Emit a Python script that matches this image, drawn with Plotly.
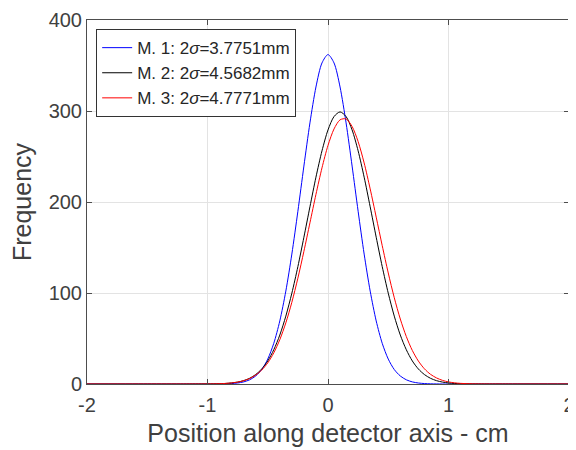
import plotly.graph_objects as go

# Positions along detector axis (cm)
x_pos = [-2.0, -1.5, -1.2, -1.1,
         -1.0, -0.95, -0.9, -0.85, -0.8, -0.75, -0.7, -0.65, -0.6, -0.55,
         -0.5, -0.45, -0.4, -0.35, -0.3, -0.25, -0.2, -0.15, -0.1, -0.05,
         0.0, 0.05, 0.1, 0.15, 0.2, 0.25, 0.3, 0.35, 0.4, 0.45,
         0.5, 0.55, 0.6, 0.65, 0.7, 0.75, 0.8, 0.85, 0.9, 0.95,
         1.0, 1.05, 1.1, 1.2, 1.3, 1.5, 2.0]

# Measurement 1 (blue)
freq_m1 = [0, 0, 0, 0,
           0, 0, 0.1, 0.2, 0.5, 1.1, 2.3, 4.6, 8.8, 15.9,
           27.4, 44.7, 69.3, 102.1, 142.8, 189.8, 239.5, 286.9, 326.4, 352.8,
           362.0, 352.8, 326.4, 286.9, 239.5, 189.8, 142.8, 102.1, 69.3, 44.7,
           27.4, 15.9, 8.8, 4.6, 2.3, 1.1, 0.5, 0.2, 0.1, 0,
           0, 0, 0, 0, 0, 0, 0]

# Measurement 2 (black)
freq_m2 = [0, 0, 0, 0.05,
           0.1, 0.2, 0.3, 0.6, 1.2, 2.1, 3.7, 6.3, 10.4, 16.5,
           25.3, 37.6, 53.8, 74.6, 99.8, 129.0, 161.3, 194.7, 227.3, 256.2,
           279.2, 293.9, 299.0, 293.9, 279.2, 256.2, 227.3, 194.7, 161.3, 129.0,
           99.8, 74.6, 53.8, 37.6, 25.3, 16.5, 10.4, 6.3, 3.7, 2.1,
           1.2, 0.6, 0.3, 0.1, 0.02, 0, 0]

# Measurement 3 (red)
freq_m3 = [0, 0, 0.01, 0.03,
           0.08, 0.17, 0.34, 0.64, 1.17, 2.09, 3.6, 6.0, 9.8, 15.3,
           23.2, 34.2, 48.7, 67.2, 89.8, 116.3, 145.8, 177.1, 208.4, 237.5,
           262.2, 280.3, 290.3, 291.3, 283.0, 266.4, 242.9, 214.4, 183.4, 152.0,
           122.0, 94.8, 71.4, 52.1, 36.8, 25.2, 16.7, 10.7, 6.7, 4.0,
           2.3, 1.3, 0.7, 0.2, 0.05, 0, 0]

series_names = ["M. 1: 2<i>σ</i>=3.7751mm",
                "M. 2: 2<i>σ</i>=4.5682mm",
                "M. 3: 2<i>σ</i>=4.7771mm"]
series_colors = ["#0000ff", "#000000", "#ff0000"]

x_ticks = [-2, -1, 0, 1, 2]
y_ticks = [0, 100, 200, 300, 400]

FONT = "Liberation Sans, Arial, Helvetica, sans-serif"
AXC = "#4d4d4d"
TXT = "#404040"

fig = go.Figure()
for name, col, ys in zip(series_names, series_colors, [freq_m1, freq_m2, freq_m3]):
    fig.add_trace(go.Scatter(x=x_pos, y=ys, mode="lines", name=name,
                             line=dict(color=col, width=1, shape="spline", smoothing=0.8)))

# page has an 8px body margin, so the figure is 8px smaller and margins shifted
fig.update_layout(
    width=568, height=442,
    margin=dict(l=79, r=7, t=12, b=66),
    paper_bgcolor="white", plot_bgcolor="white",
    font=dict(family=FONT, color=TXT),
    showlegend=True,
    legend=dict(x=0.019, y=0.975, xanchor="left", yanchor="top",
                bgcolor="white", bordercolor="#333333", borderwidth=1,
                font=dict(family=FONT, size=17, color="#262626"),
                tracegroupgap=0, itemwidth=30),
)
fig.update_xaxes(range=[-2, 2], tickvals=x_ticks, ticktext=[str(v) for v in x_ticks],
                 automargin=False,
                 showline=True, linecolor=AXC, linewidth=1, mirror="ticks",
                 ticks="inside", ticklen=5, tickcolor=AXC, ticklabelstandoff=3,
                 showgrid=True, gridcolor="#e3e3e3", gridwidth=1, zeroline=False,
                 tickfont=dict(size=20, color=TXT),
                 title=dict(text="Position along detector axis - cm",
                            font=dict(size=25, color=TXT), standoff=9))
fig.update_yaxes(range=[0, 400], tickvals=y_ticks, ticktext=[str(v) for v in y_ticks],
                 automargin=False,
                 showline=True, linecolor=AXC, linewidth=1, mirror="ticks",
                 ticks="inside", ticklen=5, tickcolor=AXC,
                 showgrid=True, gridcolor="#e3e3e3", gridwidth=1, zeroline=False,
                 tickfont=dict(size=20, color=TXT),
                 title=dict(text="Frequency", font=dict(size=25, color=TXT), standoff=12))

fig.write_html("out.html")
